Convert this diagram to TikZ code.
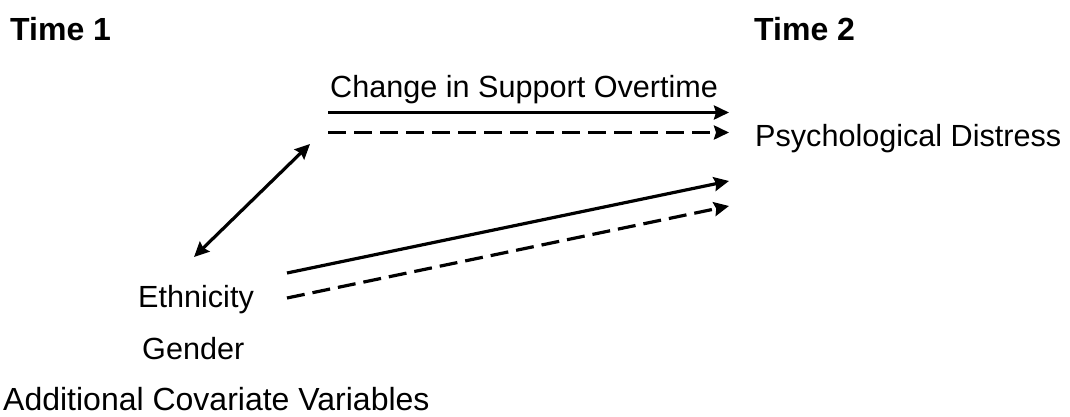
\documentclass[tikz,border=0pt]{standalone}
\usepackage{fontspec}
\setmainfont{Liberation Sans}
\usetikzlibrary{arrows.meta}
\begin{document}
\begin{tikzpicture}[x=1pt,y=-1pt,
  lbl/.style={inner sep=0pt,anchor=base west,font=\fontsize{30.6}{36}\selectfont},
  hdr/.style={inner sep=0pt,anchor=base west,font=\fontsize{32}{38}\selectfont\bfseries},
  conn/.style={line width=3.2pt,-{Stealth[length=15pt,width=14pt,inset=2pt]}},
  dconn/.style={conn,dash pattern=on 18pt off 8pt},
  both/.style={line width=3.2pt,{Stealth[length=15pt,width=14pt,inset=2pt]}-{Stealth[length=15pt,width=14pt,inset=2pt]}}]
\useasboundingbox (0,0) rectangle (1070,416);
\node[hdr] (t1) at (10,40) {Time 1};
\node[hdr] (t2) at (754,40) {Time 2};
\node[lbl] (chg) at (330,97) {Change in Support Overtime};
\node[lbl] (psy) at (755,146) {Psychological Distress};
\node[lbl] (eth) at (138,307) {Ethnicity};
\node[lbl] (gen) at (142,359) {Gender};
\node[lbl,font=\fontsize{32}{38}\selectfont] (add) at (3,410) {Additional Covariate Variables};
\coordinate (s1) at (328,112.5);
\coordinate (e1) at (729,112.5);
\coordinate (s2) at (328,132.5);
\coordinate (e2) at (729,132.5);
\coordinate (s3) at (287,273);
\coordinate (e3) at (729,181);
\coordinate (s4) at (287,298);
\coordinate (e4) at (729,206);
\coordinate (da) at (310,144);
\coordinate (db) at (194,257);
\draw[conn] (s1) -- (e1);
\draw[dconn] (s2) -- (e2);
\draw[conn] (s3) -- (e3);
\draw[dconn] (s4) -- (e4);
\draw[both] (db) -- (da);
\end{tikzpicture}
\end{document}
